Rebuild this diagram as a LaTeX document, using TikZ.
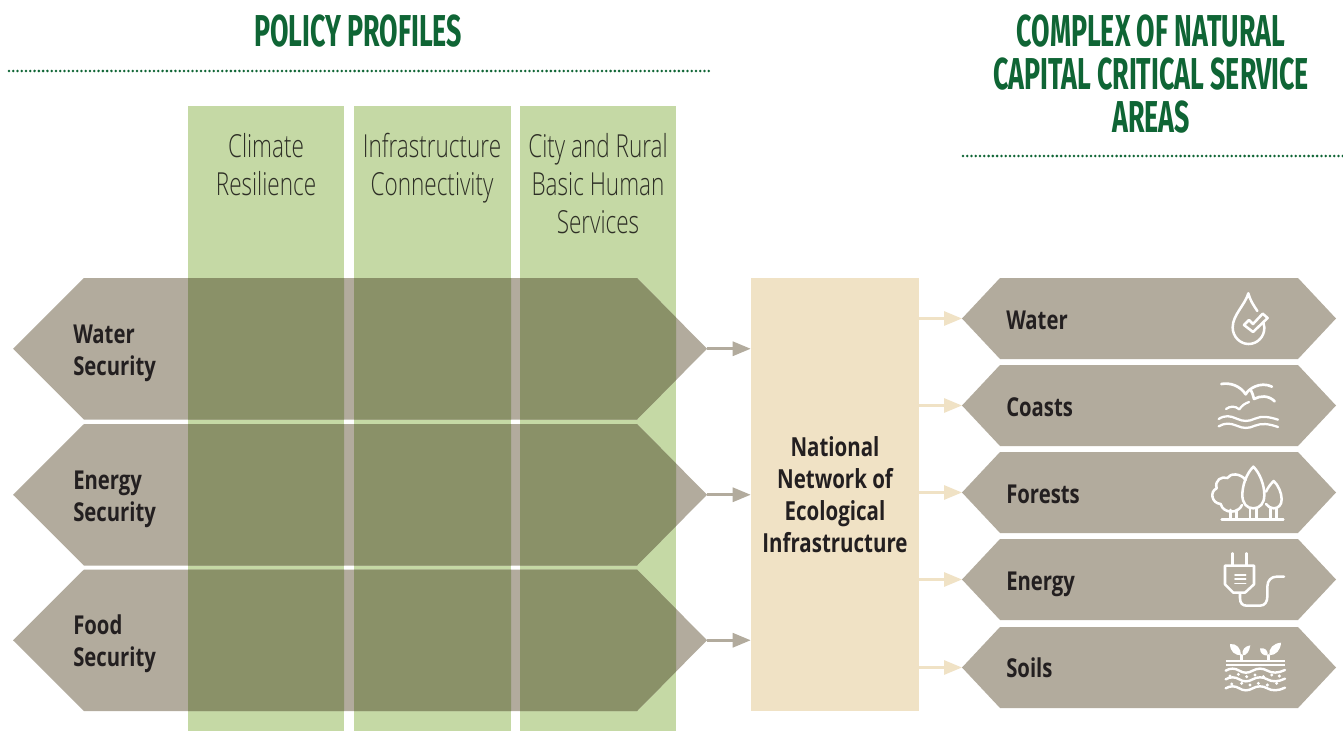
\documentclass[tikz,border=0pt]{standalone}
\usepackage{fontspec}
\usetikzlibrary{arrows.meta}
\setmainfont{Open Sans}
\newfontfamily\titlefont[FakeStretch=0.60]{Fira Sans}
\newfontfamily\colfont[FakeStretch=0.71]{Open Sans Light}
\newfontfamily\boldfont[FakeStretch=0.78]{Open Sans Bold}
\definecolor{hexc}{HTML}{B2AB9D}
\definecolor{darkc}{HTML}{8A9168}
\definecolor{greenc}{HTML}{C5D9A5}
\definecolor{boxc}{HTML}{F0E2C5}
\definecolor{titlec}{HTML}{0F6535}
\definecolor{inkc}{HTML}{231F20}
\definecolor{colinkc}{HTML}{2E2F26}
\tikzset{
  titletext/.style={text=titlec,align=center,inner sep=0pt,font=\titlefont\bfseries\fontsize{33.5}{32.2}\selectfont},
  coltext/.style={text=colinkc,align=center,inner sep=0pt,anchor=north,font=\colfont\fontsize{23.8}{28.5}\selectfont},
  hextext/.style={text=inkc,align=left,inner sep=0pt,anchor=west,font=\boldfont\fontsize{19.5}{24}\selectfont},
  rhextext/.style={text=inkc,inner sep=0pt,anchor=base west,font=\boldfont\fontsize{19.5}{24}\selectfont},
  dotline/.style={titlec,line width=2.1pt,line cap=round,dash pattern=on 0pt off 3.2pt},
  greyarrow/.style={hexc,line width=2.2pt,-{Triangle[length=13.5pt,width=10.5pt]},shorten >=0pt},
  creamarrow/.style={boxc,line width=2.2pt,-{Triangle[length=13.5pt,width=10.5pt]}},
  ico/.style={white,line width=1.9pt,line cap=round,line join=round},
  icothin/.style={white,line width=1.2pt,line cap=round,line join=round},
}
\newcommand{\lefthex}[2]{(13,#1+#2/2) -- (84,#1) -- (637,#1) -- (707,#1+#2/2) -- (637,#1+#2) -- (84,#1+#2) -- cycle}
\newcommand{\righthex}[1]{(962,#1+40.5) -- (1000,#1) -- (1298,#1) -- (1336,#1+40.5) -- (1298,#1+81) -- (1000,#1+81) -- cycle}
\begin{document}
\begin{tikzpicture}[x=0.75pt,y=-0.75pt]
\useasboundingbox (0,0) rectangle (1343,731);
\fill[white] (0,0) rectangle (1343,731);
% titles
\node[titletext] (t1) at (358,31) {POLICY PROFILES};
\node[titletext] (t2) at (1151,74) {COMPLEX OF NATURAL\\CAPITAL CRITICAL SERVICE\\AREAS};
\coordinate (d1a) at (9,71); \coordinate (d1b) at (710,71);
\coordinate (d2a) at (963,156); \coordinate (d2b) at (1345,156);
\draw[dotline] (d1a) -- (d1b);
\draw[dotline] (d2a) -- (d2b);
% columns
\fill[greenc] (188,106) rectangle (344,731);
\fill[greenc] (354,106) rectangle (511,731);
\fill[greenc] (520,106) rectangle (676,731);
\node[coltext] (c1) at (266,133) {Climate\\Resilience};
\node[coltext] (c2) at (432,133) {Infrastructure\\Connectivity};
\node[coltext] (c3) at (598,133) {City and Rural\\Basic Human\\Services};
% left hexagons
\fill[hexc] \lefthex{278}{141.5};
\fill[hexc] \lefthex{424}{141.5};
\fill[hexc] \lefthex{569.5}{141.5};
\begin{scope}
\clip (188,106) rectangle (344,731) (354,106) rectangle (511,731) (520,106) rectangle (676,731);
\fill[darkc] \lefthex{278}{141.5};
\fill[darkc] \lefthex{424}{141.5};
\fill[darkc] \lefthex{569.5}{141.5};
\end{scope}
\node[hextext] (h1) at (73,353) {Water\\Security};
\node[hextext] (h2) at (73,499) {Energy\\Security};
\node[hextext] (h3) at (73,644) {Food\\Security};
\coordinate (h1tip) at (707,348.75);
\coordinate (h2tip) at (707,494.75);
\coordinate (h3tip) at (707,640.25);
% network box
\node[fill=boxc,minimum width=126pt,minimum height=324.75pt,inner sep=0pt,text=inkc,align=center,font=\boldfont\fontsize{19.7}{24}\selectfont] (net) at (835,494.5) {National\\Network of\\Ecological\\Infrastructure};
\draw[greyarrow] (h1tip) -- (net.west |- h1tip);
\draw[greyarrow] (h2tip) -- (net.west |- h2tip);
\draw[greyarrow] (h3tip) -- (net.west |- h3tip);
% right hexagons
\fill[hexc] \righthex{278};
\fill[hexc] \righthex{365};
\fill[hexc] \righthex{452};
\fill[hexc] \righthex{539};
\fill[hexc] \righthex{627};
\node[rhextext] (r1) at (1006,329) {Water};
\node[rhextext] (r2) at (1006,416) {Coasts};
\node[rhextext] (r3) at (1006,503) {Forests};
\node[rhextext] (r4) at (1006,590) {Energy};
\node[rhextext] (r5) at (1006,677) {Soils};
\coordinate (r1tip) at (962,318.5);
\coordinate (r2tip) at (962,405.5);
\coordinate (r3tip) at (962,492.5);
\coordinate (r4tip) at (962,579.5);
\coordinate (r5tip) at (962,667.5);
\draw[creamarrow] (net.east |- r1tip) -- (r1tip);
\draw[creamarrow] (net.east |- r2tip) -- (r2tip);
\draw[creamarrow] (net.east |- r3tip) -- (r3tip);
\draw[creamarrow] (net.east |- r4tip) -- (r4tip);
\draw[creamarrow] (net.east |- r5tip) -- (r5tip);
% drop icon
\begin{scope}[shift={(1180,275)},x=.25pt,y=-.25pt]
\draw[ico] (232,108) .. controls (220,90) and (210,75) .. (205,55) .. controls (195,90) and (158,120) .. (158,157) .. controls (158,185) and (180,207) .. (206,207) .. controls (232,207) and (254,185) .. (253,157) .. controls (253,152) and (252,148) .. (250,143);
\draw[ico] (192,150) -- (207,135) -- (219,147) -- (248,116) -- (263,129) -- (219,171) -- cycle;
\end{scope}
% coast icon
\begin{scope}[shift={(1180,275)},x=.25pt,y=-.25pt]
\draw[ico,line width=2pt] (124,327) .. controls (150,322) and (180,332) .. (197,358) .. controls (205,342) and (240,318) .. (276,335);
\draw[ico,line width=2pt] (212,345) .. controls (218,355) and (220,365) .. (222,372) .. controls (240,362) and (265,360) .. (284,379);
\draw[ico,line width=1.7pt] (138,402) .. controls (150,393) and (165,392) .. (178,403) .. controls (185,392) and (195,385) .. (207,381);
\draw[ico,line width=1.7pt] (116,432) .. controls (135,420) and (150,422) .. (170,431) .. controls (190,440) and (205,440) .. (225,431) .. controls (245,422) and (265,425) .. (294,434);
\draw[ico,line width=1.7pt] (116,454) .. controls (135,443) and (150,444) .. (170,452) .. controls (190,461) and (205,461) .. (225,452) .. controls (245,444) and (265,446) .. (294,456);
\end{scope}
% forest icon
\begin{scope}[shift={(1180,450)},x=.25pt,y=-.25pt]
\draw[ico] (125,209) -- (310,209);
\draw[ico] (186,165) .. controls (175,192) and (130,192) .. (122,162) .. controls (95,160) and (88,125) .. (110,115) .. controls (103,90) and (125,78) .. (142,84) .. controls (152,68) and (182,70) .. (197,90);
\draw[ico] (220,50) .. controls (240,70) and (253,105) .. (253,135) .. controls (253,160) and (240,175) .. (220,175) .. controls (200,175) and (187,160) .. (187,135) .. controls (187,105) and (200,70) .. (220,50) -- cycle;
\draw[ico] (258,125) .. controls (264,112) and (272,102) .. (281,93) .. controls (295,105) and (305,130) .. (305,148) .. controls (305,165) and (295,175) .. (281,175) .. controls (272,175) and (264,170) .. (258,162);
\draw[ico] (152,180) -- (152,207) (170,180) -- (170,207) (210,176) -- (210,207) (230,176) -- (230,207) (271,176) -- (271,207) (290,176) -- (290,207);
\end{scope}
% plug icon
\begin{scope}[shift={(1180,450)},x=.25pt,y=-.25pt]
\draw[ico] (157,310) -- (157,347) (200,310) -- (200,347);
\draw[ico] (135,347) -- (222,347) -- (222,403) -- (195,428) -- (160,428) -- (135,403) -- cycle;
\draw[icothin] (165,375) -- (197,375) (165,387) -- (197,387) (165,400) -- (197,400);
\draw[ico] (180,430) -- (180,445) .. controls (180,460) and (188,467) .. (200,467) -- (240,467) .. controls (255,467) and (262,455) .. (262,440) -- (262,410) .. controls (262,390) and (275,380) .. (290,380) -- (312,380);
\end{scope}
% soil icon
\begin{scope}[shift={(1180,620)},x=.25pt,y=-.25pt]
\draw[ico,line width=1.7pt,line cap=butt] (137,122) -- (315,122) (137,134) -- (315,134);
\fill[white] (150,72) .. controls (170,70) and (183,85) .. (183,106) .. controls (165,106) and (150,95) .. (150,72) -- cycle;
\fill[white] (211,76) .. controls (208,95) and (200,106) .. (188,106) .. controls (184,90) and (195,78) .. (211,76) -- cycle;
\fill[white] (240,85) .. controls (255,82) and (265,92) .. (263,106) .. controls (250,108) and (240,100) .. (240,85) -- cycle;
\fill[white] (303,68) .. controls (302,90) and (288,106) .. (268,106) .. controls (265,85) and (280,70) .. (303,68) -- cycle;
\draw[ico] (185,106) -- (185,122) (265,106) -- (265,122);
\foreach \yy in {152,178,205}{
\draw[ico,line width=1.8pt] (137,\yy) .. controls (150,\yy-8) and (165,\yy-8) .. (178,\yy) .. controls (190,\yy+8) and (205,\yy+8) .. (218,\yy) .. controls (232,\yy-8) and (248,\yy-8) .. (262,\yy) .. controls (275,\yy+8) and (295,\yy+8) .. (315,\yy-2);
}
\foreach \xx/\yy in {150/168,175/163,200/170,225/165,250/170,275/165,298/168,155/192,185/190,210/195,235/190,262/195,290/190}{
\fill[white] (\xx,\yy) circle (5);
}
\end{scope}
\end{tikzpicture}
\end{document}
